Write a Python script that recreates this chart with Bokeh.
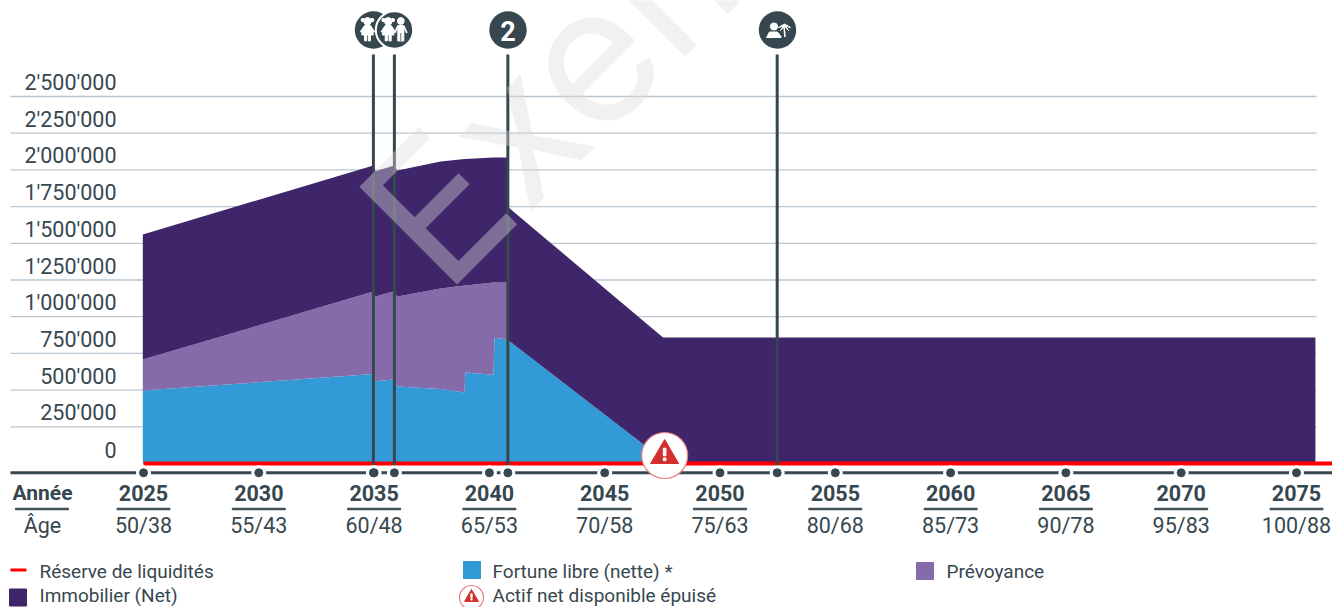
from bokeh.plotting import figure
from bokeh.embed import file_html
from bokeh.resources import INLINE
from bokeh.models import Range1d
from bokeh.core.properties import value

# ---- data
years = [2024.97, 2034.97, 2035.06, 2035.84, 2036.01, 2037.88, 2038.92, 2038.96,
         2040.18, 2040.22, 2040.76, 2040.83, 2047.53, 2047.75, 2075.82]
fortune = [497000, 610000, 561000, 572000, 525000, 507000, 484000, 620000,
           604000, 856000, 845000, 838000, 27000, 0, 0]
prevoyance = [211000, 562000, 577000, 599000, 613000, 685000, 729000, 593000,
              629000, 377000, 388000, 0, 0, 0, 0]
immobilier = [852000, 858000, 852000, 858000, 858000, 865000, 862000, 862000,
              852000, 852000, 852000, 906000, 831000, 858000, 858000]
y_ticks = [0, 250000, 500000, 750000, 1000000, 1250000, 1500000, 1750000, 2000000, 2250000, 2500000]
y_labels = ["0", "250'000", "500'000", "750'000", "1'000'000", "1'250'000", "1'500'000",
            "1'750'000", "2'000'000", "2'250'000", "2'500'000"]
tick_years = [2025, 2030, 2035, 2040, 2045, 2050, 2055, 2060, 2065, 2070, 2075]
ages = ["50/38", "55/43", "60/48", "65/53", "70/58", "75/63", "80/68", "85/73", "90/78", "95/83", "100/88"]
event_years = [2034.97, 2035.88, 2040.8, 2052.48]
exhausted_year = 2047.6
legend_labels = ["Réserve de liquidités", "Immobilier (Net)", "Fortune libre (nette) *",
                 "Actif net disponible épuisé", "Prévoyance"]

# ---- style
INK = "#37474f"
TXT = "#37474f"
BLUE = "#329ad6"
MAUVE = "#856baa"
DEEP = "#3f2569"
GRID = "#b9c6d0"
RED = "#ff0000"
WARN = "#d32f2f"
FONT = value("Roboto")
W, H = 1332, 607
PX_PER_YEAR = 23.06
Y_SCALE = 36.7 / 250000

p = figure(width=W, height=H, output_backend="svg", toolbar_location=None,
           x_range=Range1d(2025 - 143 / PX_PER_YEAR, 2025 + (W - 143) / PX_PER_YEAR),
           y_range=Range1d(-(H - 463) / Y_SCALE, 463 / Y_SCALE),
           x_axis_type=None, y_axis_type=None,
           min_border=0, outline_line_color=None)
p.grid.visible = False
p.background_fill_color = "white"
p.border_fill_color = "white"
p.extra_x_ranges["px"] = Range1d(0, W)
p.extra_y_ranges["px"] = Range1d(H, 0)
PX = dict(x_range_name="px", y_range_name="px")

# grid
p.segment([10] * 10, y_ticks[1:], [1316] * 10, y_ticks[1:], x_range_name="px",
          line_color=GRID, line_width=1.3)

# stacked areas
src = dict(x=years, fortune=fortune, prevoyance=prevoyance, immobilier=immobilier)
p.varea_stack(["fortune", "prevoyance", "immobilier"], x="x", source=src,
              color=[BLUE, MAUVE, DEEP])

# y labels
p.text([116] * 11, y_ticks, text=y_labels, x_range_name="px", text_align="right",
       text_baseline="middle", y_offset=-14, text_color=TXT, text_font=FONT, text_font_size="21.5px")

# reserve line
p.segment([143], [0], [1332], [0], x_range_name="px", line_color=RED, line_width=4)

# event lines
top_v = 2500000 + 42 / Y_SCALE * 1.0
p.segment(event_years, [top_v] * 4, event_years, [-9 / Y_SCALE] * 4, line_color=INK, line_width=3)

# time axis
p.segment([10], [472.3], [1332], [472.3], line_color=INK, line_width=3, **PX)
dot_x = tick_years + event_years
p.scatter(dot_x, [-9.3 / Y_SCALE] * len(dot_x), size=14, color="white")
p.scatter(dot_x, [-9.3 / Y_SCALE] * len(dot_x), size=8, color=INK)

# x labels
p.text(tick_years, [492.5] * 11, text=[str(y) for y in tick_years], y_range_name="px", text_align="center",
       text_baseline="middle", text_color=TXT, text_font=FONT, text_font_size="21.5px", text_font_style="bold")
p.text(tick_years, [525] * 11, text=ages, y_range_name="px", text_align="center",
       text_baseline="middle", text_color=TXT, text_font=FONT, text_font_size="21.5px")
p.rect(tick_years, [508.5] * 11, width=53, height=1.5, width_units="screen", height_units="screen",
       y_range_name="px", color=INK)
p.text([42], [492.5], text=["Année"], text_align="center", text_baseline="middle", text_color=TXT,
       text_font=FONT, text_font_size="21px", text_font_style="bold", **PX)
p.text([42], [525], text=["Âge"], text_align="center", text_baseline="middle", text_color=TXT,
       text_font=FONT, text_font_size="21.5px", **PX)
p.rect([41.5], [508.5], width=53, height=1.5, color=INK, **PX)

# event badges
badge_r = 18.7
for cx, ring in [(373, None), (394, "white"), (507.5, None), (777, None)]:
    p.circle([cx], [29.5], radius=badge_r, fill_color=INK, line_color=ring, line_width=2, **PX)


def girl(cx, cy, s=1.0):
    p.circle([cx], [cy - 9 * s], radius=4.4 * s, color="white", **PX)
    p.circle([cx - 5.5 * s, cx + 5.5 * s], [cy - 10.5 * s] * 2, radius=2 * s, color="white", **PX)
    p.patch([cx - 3.5 * s, cx + 3.5 * s, cx + 7 * s, cx - 7 * s], [cy - 4 * s, cy - 4 * s, cy + 7 * s, cy + 7 * s],
            color="white", **PX)
    p.patch([cx - 3.5 * s, cx - 1 * s, cx - 1 * s, cx - 3.5 * s], [cy + 7 * s, cy + 7 * s, cy + 14 * s, cy + 14 * s],
            color="white", **PX)
    p.patch([cx + 1 * s, cx + 3.5 * s, cx + 3.5 * s, cx + 1 * s], [cy + 7 * s, cy + 7 * s, cy + 14 * s, cy + 14 * s],
            color="white", **PX)
    p.segment([cx - 3.5 * s, cx + 3.5 * s], [cy - 3 * s] * 2, [cx - 8 * s, cx + 8 * s], [cy + 4 * s] * 2,
              line_color="white", line_width=2, **PX)


def boy(cx, cy):
    p.circle([cx], [cy - 8], radius=3.4, color="white", **PX)
    p.patch([cx - 3, cx + 3, cx + 3, cx - 3], [cy - 3.5, cy - 3.5, cy + 12, cy + 12], color="white", **PX)
    p.segment([cx - 3, cx + 3], [cy - 3, cy - 3], [cx - 6, cx + 6], [cy + 4, cy + 4],
              line_color="white", line_width=1.8, **PX)
    p.segment([cx], [cy + 4], [cx], [cy + 12], line_color=INK, line_width=0.8, **PX)


girl(367, 28.5, 0.85)
girl(387.7, 28.5, 0.85)
boy(400.3, 28.5)
p.text([507.5], [30], text=["2"], text_align="center", text_baseline="middle", text_color="white",
       text_font=FONT, text_font_style="bold", text_font_size="27px", **PX)
# beach badge
p.circle([773.5], [26], radius=3.6, color="white", **PX)
p.patch([766, 769, 777, 780.5, 780.5], [37, 31.5, 31.5, 36, 37], color="white", **PX)
p.segment([784.5], [36.5], [783.5], [26], line_color="white", line_width=1.6, **PX)
p.patch([778, 784, 790, 785, 788, 784, 780, 783], [27, 23.5, 27, 25.5, 30, 25.5, 30, 25.5], color="white", **PX)


def warning(cx, cy, r, k):
    p.circle([cx], [cy], radius=r, fill_color="white", line_color="#e88080", line_width=1.2, **PX)
    p.patch([cx - 14 * k, cx, cx + 14 * k], [cy + 8 * k, cy - 16 * k, cy + 8 * k], color=WARN, **PX)
    p.rect([cx], [cy - 3.5 * k], width=2.6 * k, height=7.5 * k, color="white", **PX)
    p.rect([cx], [cy + 3.8 * k], width=2.6 * k, height=2.6 * k, color="white", **PX)


warning(143 + (exhausted_year - 2025) * PX_PER_YEAR, 455, 23, 1.0)

# legend
p.segment([10], [569.5], [26], [569.5], line_color=RED, line_width=3, **PX)
p.rect([17.5], [597], width=17, height=17, color=DEEP, **PX)
p.rect([471.5], [569.5], width=17, height=17, color=BLUE, **PX)
p.rect([924.5], [570.5], width=17, height=17, color=MAUVE, **PX)
warning(471, 597, 12, 0.5)
p.text([39, 39, 492, 492, 946], [571, 595, 571, 595, 571], text=legend_labels, text_baseline="middle",
       text_color=TXT, text_font=FONT, text_font_size="19px", **PX)

# watermark
p.text([396], [247], text=["Exemple"], angle=45, angle_units="deg", text_baseline="alphabetic",
       text_color="#dddddd", text_alpha=0.4, text_font=value("Inter"), text_font_size="190px", **PX)

open("out.html", "w").write(file_html(p, INLINE))
